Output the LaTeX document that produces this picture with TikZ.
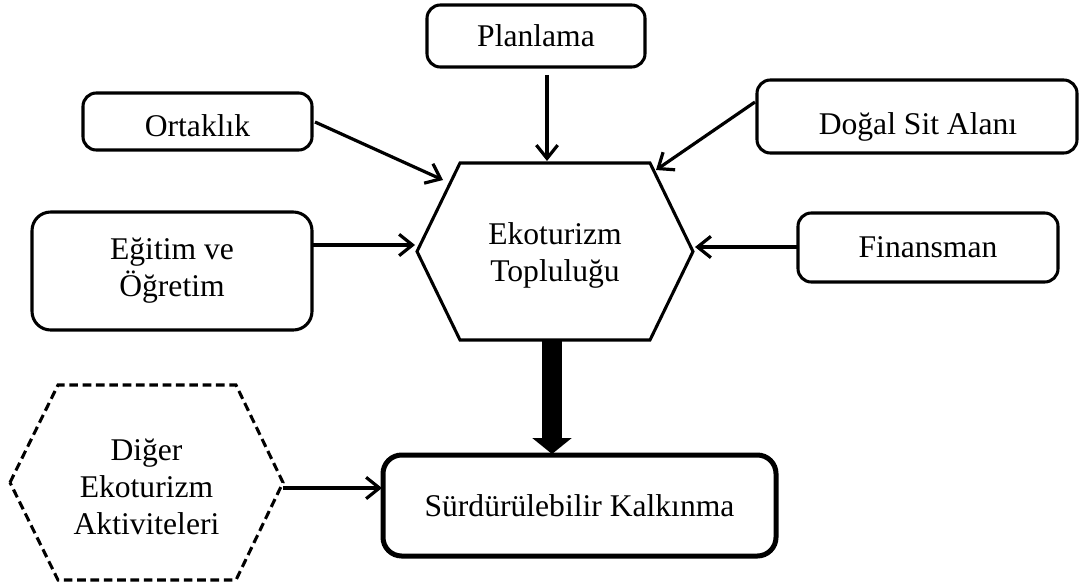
\documentclass[tikz,border=0pt]{standalone}
\usepackage{fontspec}
\setmainfont{Liberation Serif}
\usetikzlibrary{arrows.meta,calc}
\begin{document}
\begin{tikzpicture}[x=0.75pt,y=-0.75pt,
  txt/.style={align=center,inner sep=0pt,outer sep=0pt,font=\fontsize{23.7}{27.75}\selectfont},
  box/.style={txt,draw,line width=2.3pt,rounded corners=10pt},
  hexnode/.style={txt,draw=none},
  hexline/.style={line width=2.3pt,line join=miter},
  arr/.style={line width=2.4pt,-{Straight Barb[length=10pt,width=16pt]}},
  bigarr/.style={line width=15pt,-{Triangle[length=12pt,width=29pt]}}
]
\useasboundingbox (0,0) rectangle (1081,585);

% boxes
\node[box,minimum width=163.5pt,minimum height=46.5pt] (plan) at (536,36) {Planlama};
\node[box,minimum width=171.75pt,minimum height=42.75pt,text height=22pt,text depth=0pt] (ort) at (197.5,121.5) {Ortaklık};
\node[box,minimum width=240pt,minimum height=54.75pt] (dogal) at (917,116.5) {};
\node[txt] (dogalt) at (918,127) {Doğal Sit Alanı};
\node[box,rounded corners=14pt,minimum width=210pt,minimum height=88.5pt] (egit) at (172,271) {Eğitim ve\\Öğretim};
\node[box,minimum width=195pt,minimum height=51.75pt] (fin) at (928,247.5) {Finansman};
\node[box,line width=3.75pt,rounded corners=14pt,minimum width=294.75pt,minimum height=75.75pt] (sk) at (579.5,505.5) {Sürdürülebilir Kalkınma};

% central hexagon
\node[hexnode,minimum width=207pt,minimum height=132.75pt] (eco) at (555,251.5) {};
\node[txt] (ecot) at (555,255) {Ekoturizm\\Topluluğu};
\draw[hexline] (eco.west) -- ($(eco.north west)+(43,0)$) -- ($(eco.north east)+(-43,0)$) -- (eco.east)
  -- ($(eco.south east)+(-43,0)$) -- ($(eco.south west)+(43,0)$) -- cycle;

% dashed hexagon
\node[hexnode,minimum width=204.75pt,minimum height=146.25pt] (dig) at (146.5,482.5) {};
\node[txt] (digt) at (146.5,487) {Diğer\\Ekoturizm\\Aktiviteleri};
\draw[hexline,dash pattern=on 6.5pt off 3.5pt] (dig.west) -- ($(dig.north west)+(48,0)$) -- ($(dig.north east)+(-47,0)$) -- (dig.east)
  -- ($(dig.south east)+(-47,0)$) -- ($(dig.south west)+(48,0)$) -- cycle;

% arrow end points
\coordinate (pA) at (547,75);
\coordinate (pB) at (547,161);
\coordinate (oA) at (315,122);
\coordinate (oB) at (443,180);
\coordinate (dA) at (755,102);
\coordinate (dB) at (656,170);
\coordinate (eA) at (312,245);
\coordinate (eB) at (415,245);
\coordinate (fA) at (798,247);
\coordinate (fB) at (695,247);
\coordinate (gA) at (283,488);
\coordinate (gB) at (382,488);

% connectors
\draw[arr] (pA) -- (pB);
\draw[arr] (oA) -- (oB);
\draw[arr] (dA) -- (dB);
\draw[arr] (eA) -- (eB);
\draw[arr] (fA) -- (fB);
\draw[arr] (gA) -- (gB);
\draw[bigarr] ($(eco.south)+(-3,0)$) -- ($(eco.south |- sk.north)+(-3,-1)$);
\end{tikzpicture}
\end{document}
